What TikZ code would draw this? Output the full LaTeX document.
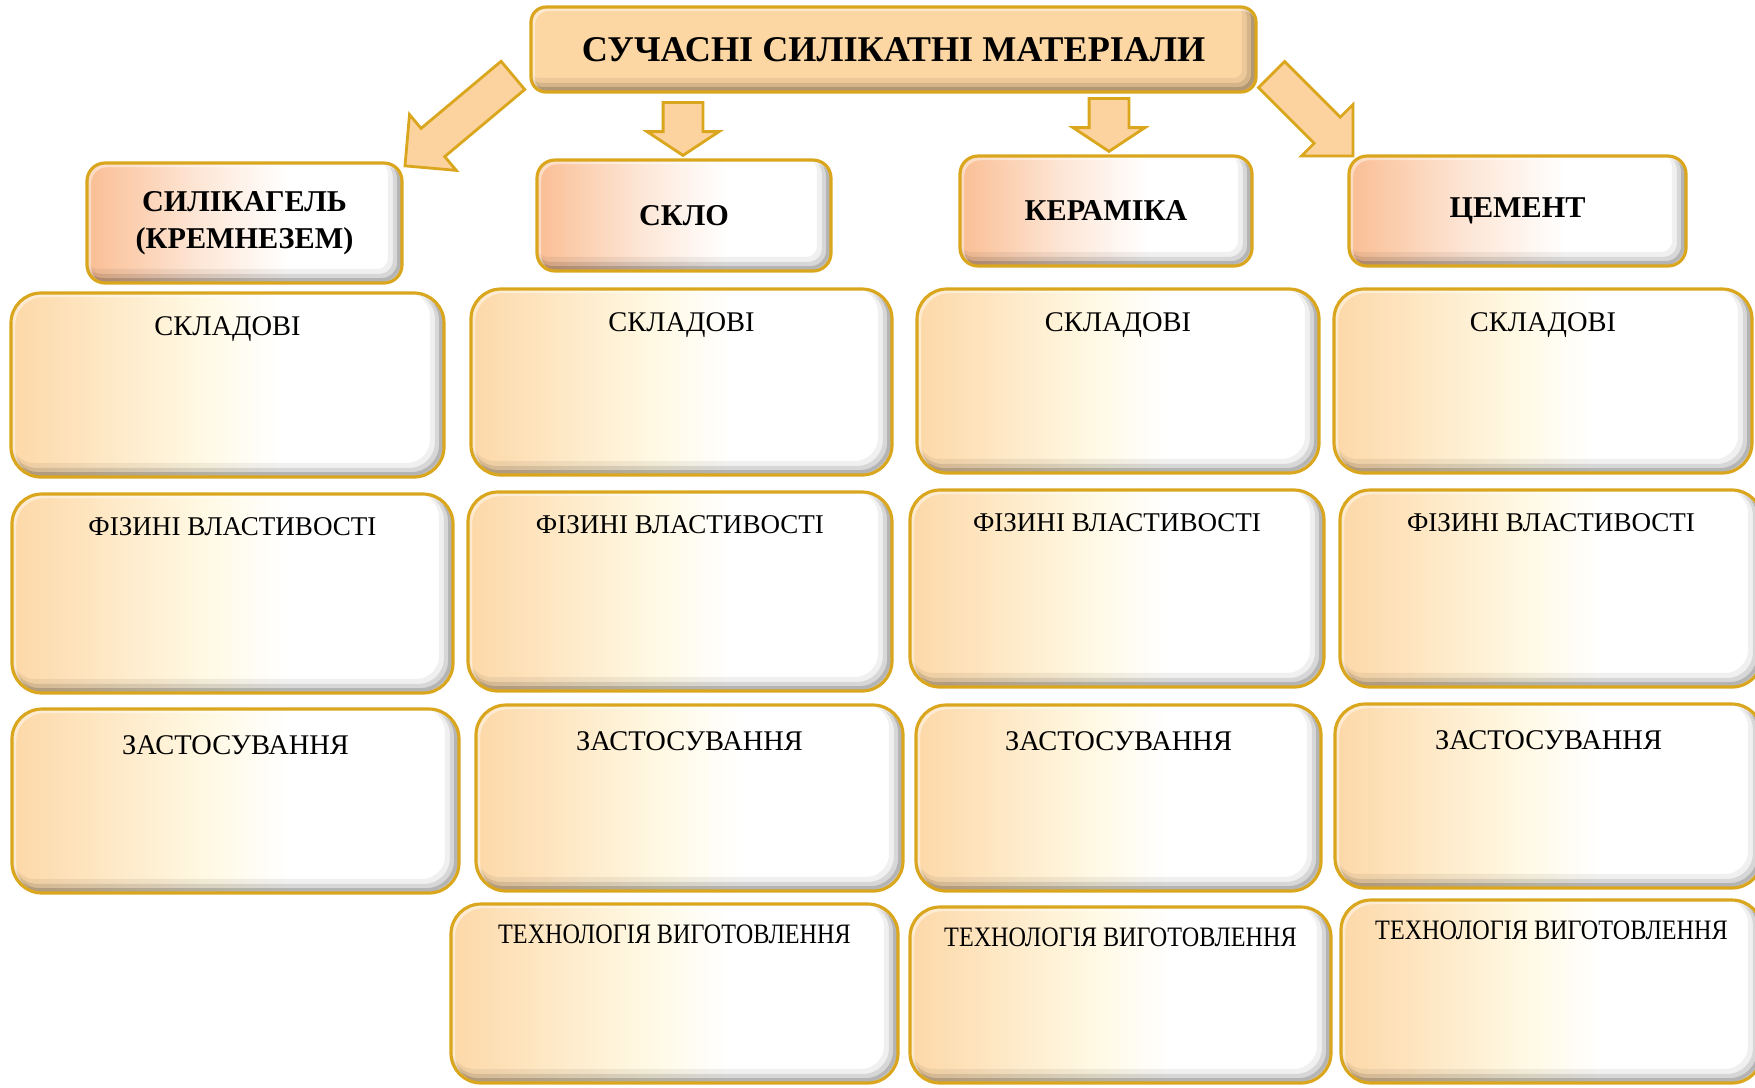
\documentclass[tikz,border=0pt]{standalone}
\usepackage{fontspec}
\setmainfont{Liberation Serif}
\newfontfamily\narrowserif{Liberation Serif}[FakeStretch=0.86]
\usetikzlibrary{shapes.arrows,calc}

\definecolor{goldline}{RGB}{218,166,30}
\definecolor{titlefill}{RGB}{252,214,163}
\definecolor{headpeach}{RGB}{250,190,148}
\definecolor{boxpeach}{RGB}{253,216,168}
\definecolor{boxcream}{RGB}{255,249,228}
\definecolor{arrowfill}{RGB}{252,210,158}
\colorlet{headmid}{headpeach!40!white}

\pgfdeclarehorizontalshading{headshade}{100bp}{color(0bp)=(headpeach); color(25bp)=(headpeach); color(42bp)=(headmid); color(57bp)=(white); color(100bp)=(white)}
\pgfdeclarehorizontalshading{boxshade}{100bp}{color(0bp)=(boxpeach); color(25bp)=(boxpeach); color(47bp)=(boxcream); color(56bp)=(white); color(100bp)=(white)}

% soft inner shadow along the lower right edge, light rim along the upper left
\tikzset{bevel/.style={path picture={
  \foreach \w/\o in {4pt/.06, 2.6pt/.1, 1.4pt/.16}
    \draw[black, opacity=\o, line width=\w, rounded corners=#1]
      ([shift={(-0.5*\w,0.5*\w)}]path picture bounding box.south west) rectangle ([shift={(-0.5*\w,0.5*\w)}]path picture bounding box.north east);
  \draw[white, opacity=.45, line width=1.2pt, rounded corners=#1]
    ([shift={(0.6pt,-0.6pt)}]path picture bounding box.south west) rectangle ([shift={(0.6pt,-0.6pt)}]path picture bounding box.north east);
}}}

\newcommand{\fatarrow}[3][]{%
  \path let \p1=($(#3)-(#2)$) in
    node [bigarrow, #1, anchor=tail, rotate={atan2(\y1,\x1)}, minimum height={veclen(\x1,\y1)}] at (#2) {};}

\begin{document}
\begin{tikzpicture}
	\tikzstyle{titlebox} = [rectangle, rounded corners=0.15cm, draw=goldline, line width=0.9pt, fill=titlefill, bevel=0.15cm,
	font=\bfseries\fontsize{10.3}{12}\selectfont, minimum width=7.25cm, minimum height=0.85cm]
	\tikzstyle{headbox} = [rectangle, rounded corners=0.18cm, draw=goldline, line width=0.9pt, shading=headshade, bevel=0.18cm,
	font=\bfseries\fontsize{8.6}{10.5}\selectfont, align=center]
	\tikzstyle{infobox} = [rectangle, rounded corners=0.3cm, draw=goldline, line width=0.9pt, shading=boxshade, bevel=0.3cm]
	\tikzstyle{lbl} = [font=\fontsize{8.1}{10}\selectfont, anchor=center, yshift=-0.375cm]
	\tikzstyle{physlbl} = [lbl, font=\fontsize{7.7}{10}\selectfont, yshift=0.03cm]
	\tikzstyle{techlbl} = [lbl, font=\narrowserif\fontsize{8}{10}\selectfont, yshift=0.06cm]
	\tikzstyle{bigarrow} = [single arrow, draw=goldline, line width=0.8pt, fill=arrowfill, inner sep=0.17cm,
	single arrow head extend=0.18cm, single arrow tip angle=90]

	\useasboundingbox (0,0) rectangle (17.55,-10.87);

	\node (title) [titlebox] at (8.935,-0.495) {СУЧАСНІ СИЛІКАТНІ МАТЕРІАЛИ};

	\node (gel) [headbox, minimum width=3.15cm, minimum height=1.2cm] at (2.445,-2.23) {СИЛІКАГЕЛЬ\\(КРЕМНЕЗЕМ)};
	\node (glass) [headbox, minimum width=2.94cm, minimum height=1.11cm] at (6.84,-2.155) {СКЛО};
	\node (ceram) [headbox, minimum width=2.92cm, minimum height=1.1cm] at (11.06,-2.11) {КЕРАМІКА};
	\node (cement) [headbox, minimum width=3.37cm, minimum height=1.1cm] at (15.175,-2.11) {ЦЕМЕНТ};

	\node (gel-comp) [infobox, minimum width=4.33cm, minimum height=1.84cm, label={[lbl]north:СКЛАДОВІ}] at (2.275,-3.85) {};
	\node (gel-phys) [infobox, minimum width=4.41cm, minimum height=1.99cm, label={[physlbl]north:ФІЗИНІ ВЛАСТИВОСТІ}] at (2.325,-5.935) {};
	\node (gel-use) [infobox, minimum width=4.47cm, minimum height=1.84cm, label={[lbl]north:ЗАСТОСУВАННЯ}] at (2.355,-8.01) {};

	\node (glass-comp) [infobox, minimum width=4.21cm, minimum height=1.86cm, label={[lbl]north:СКЛАДОВІ}] at (6.815,-3.82) {};
	\node (glass-phys) [infobox, minimum width=4.24cm, minimum height=1.99cm, label={[physlbl]north:ФІЗИНІ ВЛАСТИВОСТІ}] at (6.8,-5.915) {};
	\node (glass-use) [infobox, minimum width=4.27cm, minimum height=1.86cm, label={[lbl]north:ЗАСТОСУВАННЯ}] at (6.895,-7.98) {};
	\node (glass-tech) [infobox, minimum width=4.47cm, minimum height=1.79cm, label={[techlbl]north:ТЕХНОЛОГІЯ ВИГОТОВЛЕННЯ}] at (6.745,-9.935) {};

	\node (ceram-comp) [infobox, minimum width=4.02cm, minimum height=1.84cm, label={[lbl]north:СКЛАДОВІ}] at (11.18,-3.81) {};
	\node (ceram-phys) [infobox, minimum width=4.14cm, minimum height=1.97cm, label={[physlbl]north:ФІЗИНІ ВЛАСТИВОСТІ}] at (11.17,-5.885) {};
	\node (ceram-use) [infobox, minimum width=4.05cm, minimum height=1.86cm, label={[lbl]north:ЗАСТОСУВАННЯ}] at (11.185,-7.98) {};
	\node (ceram-tech) [infobox, minimum width=4.21cm, minimum height=1.76cm, label={[techlbl]north:ТЕХНОЛОГІЯ ВИГОТОВЛЕННЯ}] at (11.205,-9.95) {};

	\node (cement-comp) [infobox, minimum width=4.18cm, minimum height=1.84cm, label={[lbl]north:СКЛАДОВІ}] at (15.43,-3.81) {};
	\node (cement-phys) [infobox, minimum width=4.22cm, minimum height=1.97cm, label={[physlbl]north:ФІЗИНІ ВЛАСТИВОСТІ}] at (15.51,-5.885) {};
	\node (cement-use) [infobox, minimum width=4.27cm, minimum height=1.84cm, label={[lbl]north:ЗАСТОСУВАННЯ}] at (15.485,-7.96) {};
	\node (cement-tech) [infobox, minimum width=4.21cm, minimum height=1.83cm, label={[techlbl]north:ТЕХНОЛОГІЯ ВИГОТОВЛЕННЯ}] at (15.515,-9.915) {};

	% block arrows from the title down to the four groups
	\coordinate (gel-from) at (5.14,-0.745);
	\coordinate (gel-to) at (4.06,-1.65);
	\coordinate (glass-from) at (6.83,-1.01);
	\coordinate (glass-to) at (6.83,-1.48);
	\coordinate (ceram-from) at (11.09,-0.97);
	\coordinate (ceram-to) at (11.09,-1.47);
	\coordinate (cement-from) at (12.705,-0.735);
	\coordinate (cement-to) at (13.52,-1.55);

	\fatarrow{gel-from}{gel-to}
	\fatarrow[inner sep=0.185cm, single arrow head extend=0.16cm, single arrow tip angle=113]{glass-from}{glass-to}
	\fatarrow[inner sep=0.185cm, single arrow head extend=0.16cm, single arrow tip angle=113]{ceram-from}{ceram-to}
	\fatarrow{cement-from}{cement-to}
\end{tikzpicture}
\end{document}
